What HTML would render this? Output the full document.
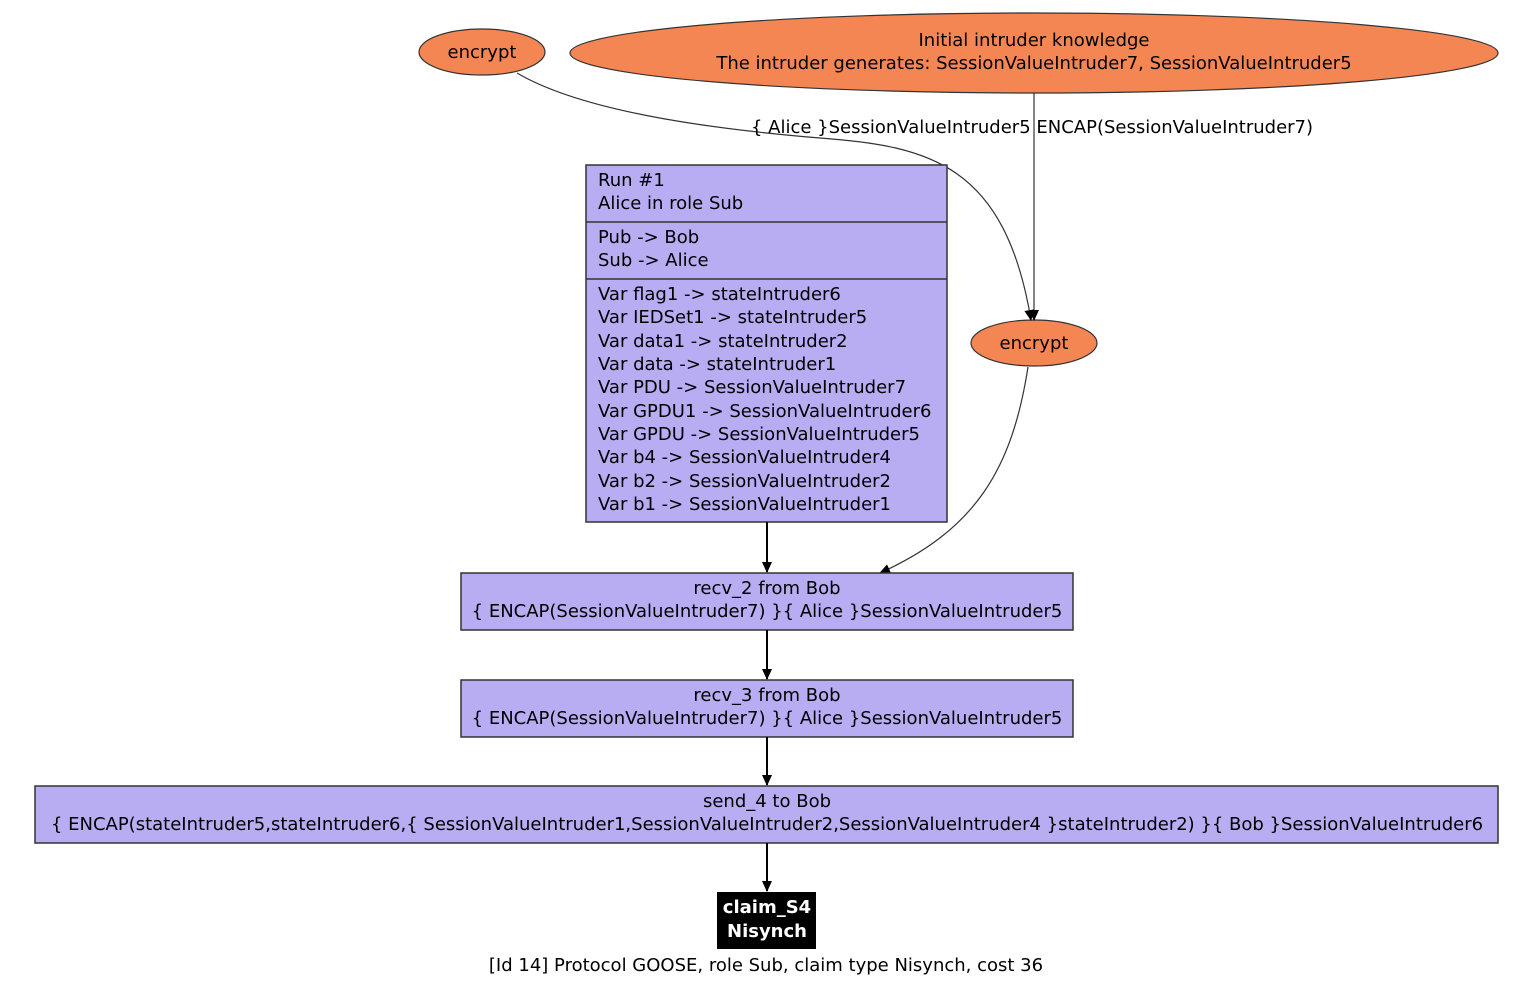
<!DOCTYPE html>
<html><head><meta charset="utf-8"><style>
html,body{margin:0;padding:0;background:#fff;}
svg text{font-family:"DejaVu Sans","Liberation Sans",sans-serif;font-size:18px;fill:#000;}
</style></head><body>
<svg width="1536" height="986" viewBox="0 0 1536 986" xmlns="http://www.w3.org/2000/svg">
<defs><marker id="a" markerWidth="12" markerHeight="12" refX="10" refY="5" orient="auto" markerUnits="userSpaceOnUse"><path d="M0,0 L11,5 L0,10 z" fill="#000"/></marker></defs>
<ellipse cx="482" cy="52" rx="63" ry="23" fill="#f48654" stroke="#333" stroke-width="1.2"/>
<text x="482" y="58" text-anchor="middle">encrypt</text>
<ellipse cx="1034" cy="53" rx="464" ry="40" fill="#f48654" stroke="#333" stroke-width="1.2"/>
<text x="1034" y="46" text-anchor="middle">Initial intruder knowledge</text>
<text x="1034" y="69" text-anchor="middle">The intruder generates: SessionValueIntruder7, SessionValueIntruder5</text>
<ellipse cx="1034" cy="343" rx="63" ry="23" fill="#f48654" stroke="#333" stroke-width="1.2"/>
<text x="1034" y="349" text-anchor="middle">encrypt</text>
<path d="M517,73 C580,110 700,128 820,138 C930,146 1005,165 1031,320" fill="none" stroke="#333" stroke-width="1.2" marker-end="url(#a)"/>
<path d="M1034,93 L1034,320" fill="none" stroke="#333" stroke-width="1.2" marker-end="url(#a)"/>
<text x="1032" y="133" text-anchor="middle">{ Alice }SessionValueIntruder5 ENCAP(SessionValueIntruder7)</text>
<rect x="586" y="165" width="361" height="357" fill="#b8acf2" stroke="#333" stroke-width="1.5"/>
<line x1="586" y1="222" x2="947" y2="222" stroke="#333" stroke-width="1.5"/>
<line x1="586" y1="279" x2="947" y2="279" stroke="#333" stroke-width="1.5"/>
<text x="598" y="186">Run #1</text>
<text x="598" y="209">Alice in role Sub</text>
<text x="598" y="243">Pub -&gt; Bob</text>
<text x="598" y="266">Sub -&gt; Alice</text>
<text x="598" y="300">Var flag1 -&gt; stateIntruder6</text>
<text x="598" y="323">Var IEDSet1 -&gt; stateIntruder5</text>
<text x="598" y="347">Var data1 -&gt; stateIntruder2</text>
<text x="598" y="370">Var data -&gt; stateIntruder1</text>
<text x="598" y="393">Var PDU -&gt; SessionValueIntruder7</text>
<text x="598" y="417">Var GPDU1 -&gt; SessionValueIntruder6</text>
<text x="598" y="440">Var GPDU -&gt; SessionValueIntruder5</text>
<text x="598" y="463">Var b4 -&gt; SessionValueIntruder4</text>
<text x="598" y="487">Var b2 -&gt; SessionValueIntruder2</text>
<text x="598" y="510">Var b1 -&gt; SessionValueIntruder1</text>
<path d="M1028,367 C1012,470 975,530 880,573" fill="none" stroke="#333" stroke-width="1.2" marker-end="url(#a)"/>
<path d="M767,522 L767,572" stroke="#000" stroke-width="2" marker-end="url(#a)"/>
<rect x="461" y="573" width="612" height="57" fill="#b8acf2" stroke="#333" stroke-width="1.5"/>
<text x="767" y="594" text-anchor="middle">recv_2 from Bob</text>
<text x="767" y="617" text-anchor="middle">{ ENCAP(SessionValueIntruder7) }{ Alice }SessionValueIntruder5</text>
<path d="M767,630 L767,679" stroke="#000" stroke-width="2" marker-end="url(#a)"/>
<rect x="461" y="680" width="612" height="57" fill="#b8acf2" stroke="#333" stroke-width="1.5"/>
<text x="767" y="701" text-anchor="middle">recv_3 from Bob</text>
<text x="767" y="724" text-anchor="middle">{ ENCAP(SessionValueIntruder7) }{ Alice }SessionValueIntruder5</text>
<path d="M767,737 L767,785" stroke="#000" stroke-width="2" marker-end="url(#a)"/>
<rect x="35" y="786" width="1463" height="57" fill="#b8acf2" stroke="#333" stroke-width="1.5"/>
<text x="767" y="807" text-anchor="middle">send_4 to Bob</text>
<text x="767" y="830" text-anchor="middle">{ ENCAP(stateIntruder5,stateIntruder6,{ SessionValueIntruder1,SessionValueIntruder2,SessionValueIntruder4 }stateIntruder2) }{ Bob }SessionValueIntruder6</text>
<path d="M767,843 L767,891" stroke="#000" stroke-width="2" marker-end="url(#a)"/>
<rect x="717" y="892" width="99" height="57" fill="#000"/>
<text x="767" y="913" text-anchor="middle" style="fill:#fff;font-weight:bold">claim_S4</text>
<text x="767" y="937" text-anchor="middle" style="fill:#fff;font-weight:bold">Nisynch</text>
<text x="766" y="971" text-anchor="middle">[Id 14] Protocol GOOSE, role Sub, claim type Nisynch, cost 36</text>
</svg>
</body></html>
